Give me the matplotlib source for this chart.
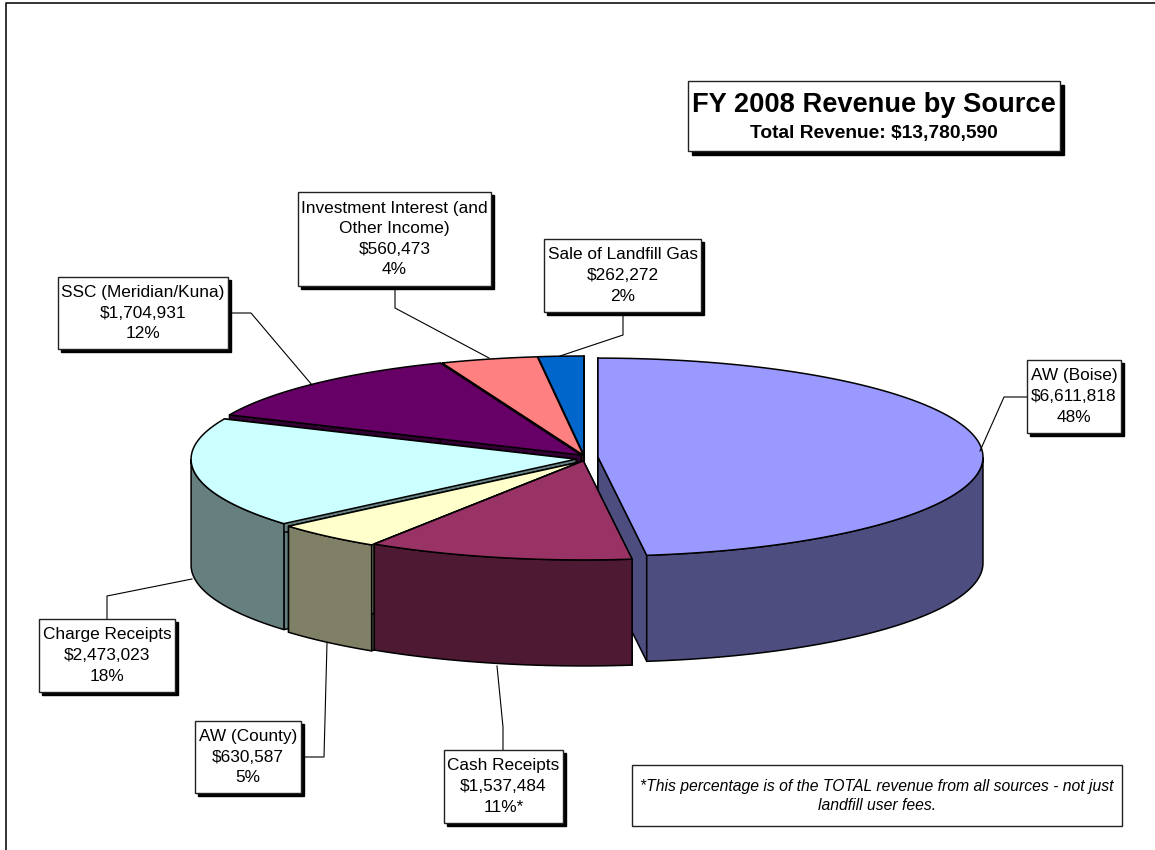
import numpy as np
import matplotlib
matplotlib.use("Agg")
import matplotlib.pyplot as plt
from matplotlib.patches import Rectangle

plt.rcParams['font.family'] = ['Liberation Sans', 'DejaVu Sans']

# data, clockwise from 12 o'clock
sources = ["AW (Boise)", "Cash Receipts", "AW (County)", "Charge Receipts",
           "SSC (Meridian/Kuna)", "Investment Interest (and\nOther Income)", "Sale of Landfill Gas"]
amounts = [6611818, 1537484, 630587, 2473023, 1704931, 560473, 262272]
total_revenue = 13780590
pct_labels = ["48%", "11%*", "5%", "18%", "12%", "4%", "2%"]
top_colors = ["#9999FF", "#993366", "#FFFFCC", "#CCFFFF", "#660066", "#FF8080", "#0066CC"]
side_colors = ["#4D4D80", "#4D1933", "#808066", "#668080", "#330033", "#804040", "#003366"]
explode = [14, 3, 5, 8, 4, 3, 3]

# label boxes: x0, x1, y0, y1 in pixels
boxes = [(1027, 1121, 360, 433), (444, 563, 750, 823), (195, 301, 721, 793), (39, 175, 619, 692),
         (58, 228, 277, 349), (298, 491, 192, 286), (544, 701, 239, 312)]
leaders = [[(1027, 397), (1004, 397), (980, 451)],
           [(503, 750), (503, 727), (497, 666)],
           [(304, 757), (324, 757), (327, 643)],
           [(107, 619), (107, 596), (192, 579)],
           [(231, 313), (251, 313), (312, 385)],
           [(395, 286), (395, 308), (489, 358)],
           [(623, 312), (623, 335), (560, 356)]]

cx, cy = 584, 458
rx, ry = 385, 99
depth = 106
draw_order = [6, 5, 4, 0, 3, 2, 1]

fig = plt.figure(figsize=(11.55, 8.5), dpi=100)
ax = fig.add_axes([0, 0, 1, 1])
ax.set_xlim(0, 1155)
ax.set_ylim(850, 0)
ax.axis("off")

# frame of the original sheet
ax.plot([6, 6, 1155], [850, 2.5, 2.5], color="#111111", lw=1.2)

edges = np.cumsum([0] + amounts) / sum(amounts) * 2 * np.pi


def slice_center(i):
    mid = (edges[i] + edges[i + 1]) / 2
    return cx + explode[i] * np.sin(mid), cy - explode[i] * np.cos(mid)


def rim(x0, y0, a):
    return x0 + rx * np.sin(a), y0 - ry * np.cos(a)


for i in draw_order:
    a0, a1 = edges[i], edges[i + 1]
    x0, y0 = slice_center(i)
    # walls of the two cuts
    for a in (a0, a1):
        xe, ye = rim(x0, y0, a)
        ax.fill([x0, xe, xe, x0], [y0, ye, ye + depth, y0 + depth],
                facecolor=side_colors[i], edgecolor="black", lw=1.1, joinstyle="round")
    # outer wall, only the front half of the rim shows
    lo, hi = max(a0, np.pi / 2), min(a1, 3 * np.pi / 2)
    if hi > lo:
        t = np.linspace(lo, hi, 80)
        xs, ys = rim(x0, y0, t)
        ax.fill(np.r_[xs, xs[::-1]], np.r_[ys, ys[::-1] + depth],
                facecolor=side_colors[i], edgecolor="black", lw=1.1)
    # top
    t = np.linspace(a0, a1, 150)
    xs, ys = rim(x0, y0, t)
    ax.fill(np.r_[x0, xs], np.r_[y0, ys], facecolor=top_colors[i], edgecolor="black", lw=1.1)


def box(x0, x1, y0, y1, shadow=4):
    if shadow:
        ax.add_patch(Rectangle((x0 + shadow, y0 + shadow), x1 - x0, y1 - y0, fc="black", ec="black", lw=1, zorder=4))
    ax.add_patch(Rectangle((x0, y0), x1 - x0, y1 - y0, fc="white", ec="#222222", lw=1, zorder=5))


for i in range(len(sources)):
    pts = np.array(leaders[i])
    ax.plot(pts[:, 0], pts[:, 1], color="black", lw=0.8, zorder=3)
    x0, x1, y0, y1 = boxes[i]
    box(x0, x1, y0, y1, shadow=3)
    label = sources[i] + "\n$" + format(amounts[i], ",") + "\n" + pct_labels[i]
    ax.text((x0 + x1) / 2, (y0 + y1) / 2, label, ha="center", va="center", fontsize=12.4,
            linespacing=1.46, color="black", zorder=6)

# title box
box(688, 1060, 81, 151, shadow=4)
ax.text(874, 105, "FY 2008 Revenue by Source", ha="center", va="center", fontsize=19.6,
        fontweight="bold", zorder=6)
ax.text(874, 133, "Total Revenue: $" + format(total_revenue, ","), ha="center", va="center", fontsize=13.8,
        fontweight="bold", zorder=6)

# footnote box
box(632, 1122, 765, 826, shadow=0)
ax.text(877, 796, "*This percentage is of the TOTAL revenue from all sources - not just\nlandfill user fees.",
        ha="center", va="center", fontsize=11.3, style="italic", linespacing=1.39, zorder=6)

fig.savefig("out.png", dpi=100)
